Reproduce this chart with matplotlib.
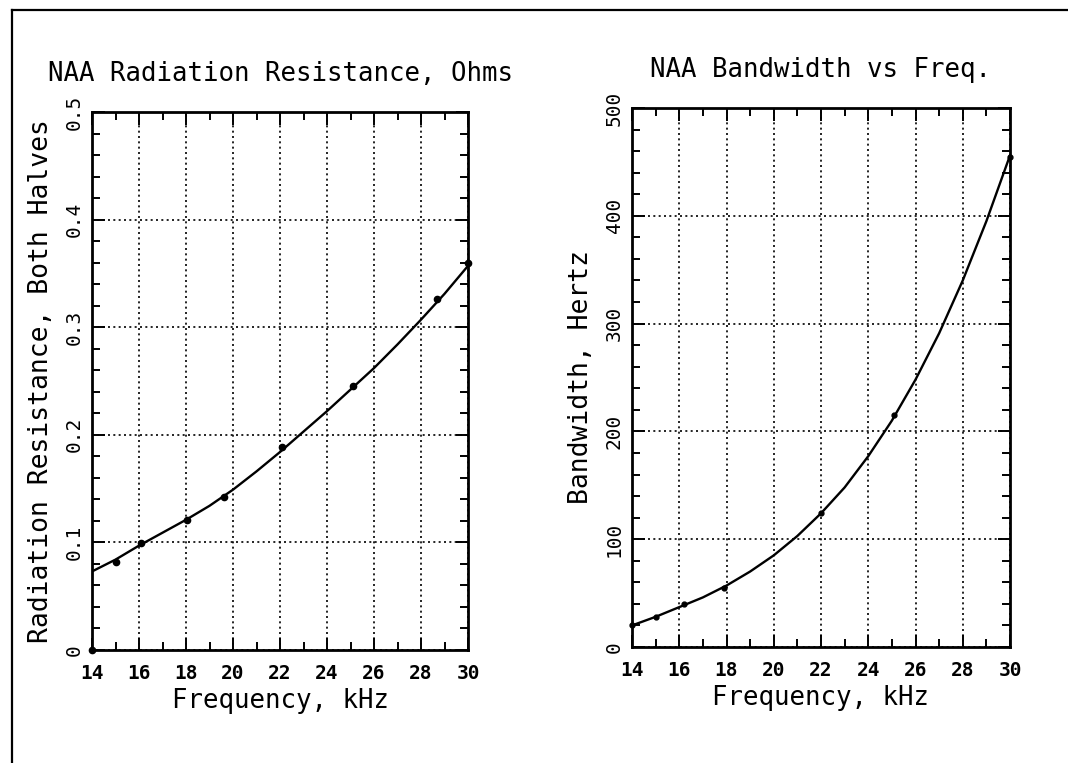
import matplotlib.pyplot as plt
from matplotlib.lines import Line2D
from matplotlib.ticker import MultipleLocator

# Values
freq_curve = [14, 15, 16, 17, 18, 19, 20, 21, 22, 23, 24, 25, 26, 27, 28, 29, 30]
res_curve = [0.073, 0.084, 0.097, 0.109, 0.121, 0.134, 0.149, 0.166, 0.184,
             0.203, 0.222, 0.242, 0.262, 0.284, 0.307, 0.331, 0.357]
res_pts_f = [14, 15, 16.1, 18.05, 19.6, 22.1, 25.1, 28.7, 30]
res_pts = [0.0, 0.082, 0.099, 0.121, 0.142, 0.189, 0.245, 0.326, 0.36]

bw_curve = [20, 28, 37, 46, 57, 70, 85, 103, 124, 148, 177, 210, 248, 291, 340, 395, 456]
bw_pts_f = [14, 15, 16.2, 17.9, 22, 25.1, 30]
bw_pts = [20, 28, 40, 55, 124, 215, 455]

xticks = [14, 16, 18, 20, 22, 24, 26, 28, 30]
res_ticks = [0, 0.1, 0.2, 0.3, 0.4, 0.5]
res_labels = ["0", "0.1", "0.2", "0.3", "0.4", "0.5"]
bw_ticks = [0, 100, 200, 300, 400, 500]
bw_labels = ["0", "100", "200", "300", "400", "500"]
font = "DejaVu Sans Mono"

fig = plt.figure(figsize=(10.68, 7.63), dpi=100)
W, H = 1068, 763

# outer frame (top and left edges only, as in the scan)
fig.add_artist(Line2D([12 / W, 1.0], [1 - 10 / H, 1 - 10 / H], transform=fig.transFigure, color="black", lw=1.6))
fig.add_artist(Line2D([12 / W, 12 / W], [0.0, 1 - 10 / H], transform=fig.transFigure, color="black", lw=1.6))


def setup(ax, ymax, yticks, ylabels, yminor, title, ylabel):
    ax.set_xlim(14, 30)
    ax.set_ylim(0, ymax)
    ax.set_xticks(xticks, [str(t) for t in xticks], family=font, fontsize=14, fontweight="bold")
    ax.set_yticks(yticks, ylabels, rotation=90, va="center", family=font, fontsize=14)
    ax.xaxis.set_minor_locator(MultipleLocator(1))
    ax.yaxis.set_minor_locator(MultipleLocator(yminor))
    ax.tick_params(which="both", direction="in", top=True, right=True, color="black")
    ax.tick_params(which="major", length=9, width=1.4)
    ax.tick_params(which="minor", length=6, width=1.4)
    ax.tick_params(axis="x", pad=10)
    ax.tick_params(axis="y", pad=6)
    ax.grid(True, which="major", color="black", linestyle=(0, (1.2, 2)), linewidth=1.2)
    for s in ax.spines.values():
        s.set_linewidth(2)
    ax.set_title(title, family=font, fontsize=18.5, pad=22)
    ax.set_xlabel("Frequency, kHz", family=font, fontsize=18.5, labelpad=4)
    ax.set_ylabel(ylabel, family=font, fontsize=19, labelpad=8)


ax1 = fig.add_axes([92 / W, 113 / H, 376 / W, 538 / H])
ax1.plot(freq_curve, res_curve, color="black", lw=1.7)
ax1.plot(res_pts_f, res_pts, "o", color="black", ms=4.5, clip_on=False)
setup(ax1, 0.5, res_ticks, res_labels, 0.02,
      "NAA Radiation Resistance, Ohms", "Radiation Resistance, Both Halves")

ax2 = fig.add_axes([632 / W, 116 / H, 378 / W, 539 / H])
ax2.plot(freq_curve, bw_curve, color="black", lw=1.7)
ax2.plot(bw_pts_f, bw_pts, "o", color="black", ms=3.5, clip_on=False)
setup(ax2, 500, bw_ticks, bw_labels, 20,
      "NAA Bandwidth vs Freq.", "Bandwidth, Hertz")

fig.savefig("out.png", dpi=100)
